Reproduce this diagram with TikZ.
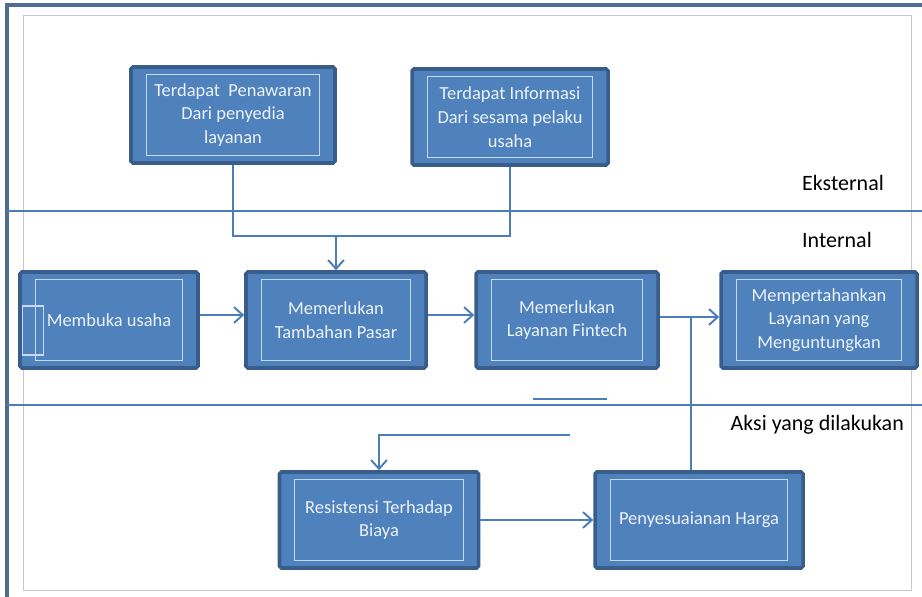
\documentclass[tikz,border=0pt]{standalone}
\usepackage{fontspec}
\setmainfont{Carlito}
\usepackage{tikz}
\usetikzlibrary{arrows.meta,positioning,calc}
\definecolor{isikotak}{RGB}{79,129,189}
\definecolor{tepikotak}{RGB}{56,93,138}
\definecolor{garisdalam}{RGB}{198,217,241}
\definecolor{teksbox}{RGB}{236,242,249}
\definecolor{garisalur}{RGB}{74,126,187}
\definecolor{bingkai}{RGB}{79,108,145}
\definecolor{abu}{RGB}{200,200,200}

\tikzset{
  kotak/.style={draw=tepikotak, line width=2pt, fill=isikotak, rounded corners=1pt,
    text=teksbox, align=center, inner sep=0pt, font=\fontsize{10.5}{13.5}\selectfont},
  ukuran/.style 2 args={minimum width=#1*0.02cm, minimum height=#2*0.02cm},
  dalam/.style={draw=garisdalam, line width=0.6pt},
  garis/.style={draw=garisalur, line width=1.2pt},
  panah/.style={garis, -{Straight Barb[length=5pt,width=9pt,line width=1.1pt]}},
  wilayah/.style={font=\fontsize{12.5}{15}\selectfont, text=black}
}

\begin{document}
\begin{tikzpicture}[x=0.02cm, y=-0.02cm]
  \useasboundingbox (0,0) rectangle (922,597);
  % frame and lanes
  \draw[abu, line width=0.5pt] (23,15) rectangle (911,590);
  \draw[bingkai, line width=2pt] (7,597) -- (7,5) -- (922,5);
  \draw[garisalur, line width=1.4pt] (7,211) -- (922,211);
  \draw[garisalur, line width=1.4pt] (7,405) -- (922,405);
  \node[wilayah, anchor=east] (eksternal) at (890,183) {Eksternal};
  \node[wilayah, anchor=east] (internal) at (878,240) {Internal};
  \node[wilayah, anchor=east] (aksi) at (910,425) {Aksi yang dilakukan};

  % boxes
  \node[kotak, ukuran={204}{96}] (penawaran) at (233,115) {Terdapat\ \ Penawaran\\Dari penyedia\\layanan};
  \node[kotak, ukuran={196}{96}] (informasi) at (510,117) {Terdapat Informasi\\Dari sesama pelaku\\usaha};
  \node[kotak, ukuran={178}{96}] (membuka) at (109,320) {Membuka usaha};
  \node[kotak, ukuran={180}{96}] (pasar) at (336,320) {Memerlukan\\Tambahan Pasar};
  \node[kotak, ukuran={182}{96}] (fintech) at (567,320) {Memerlukan\\Layanan Fintech};
  \node[kotak, ukuran={196}{96}] (pertahankan) at (819,320) {Mempertahankan\\Layanan yang\\Menguntungkan};
  \node[kotak, ukuran={199}{96}] (resistensi) at (379,520) {Resistensi Terhadap\\Biaya};
  \node[kotak, ukuran={208}{96}] (harga) at (699,520) {Penyesuaianan Harga};
  % inner frames
  \foreach \k in {penawaran,informasi,membuka,pasar,fintech,pertahankan,resistensi,harga}
    \draw[dalam] ($(\k.north west)+(17,9)$) rectangle ($(\k.south east)+(-17,-9)$);
  \draw[dalam] ($(membuka.west)+(4,-14)$) rectangle ($(membuka.west)+(25,35)$);

  % connectors
  \coordinate (gabung) at (0,236);
  \draw[garis] (penawaran.south) -- (penawaran.south |- gabung) -- (informasi.south |- gabung) -- (informasi.south);
  \draw[panah] (pasar.north |- gabung) -- (pasar.north);
  \draw[panah] ([yshift=0.1cm]membuka.east) -- ([yshift=0.1cm]pasar.west);
  \draw[panah] ([yshift=0.1cm]pasar.east) -- ([yshift=0.1cm]fintech.west);
  \draw[panah] ([yshift=0.06cm]fintech.east) -- ([yshift=0.06cm]pertahankan.west);
  \coordinate (cabang) at (691,317);
  \draw[garis] (cabang) -- (cabang |- harga.north);
  \coordinate (umpan) at (570,435);
  \draw[panah] (umpan) -| (resistensi.north);
  \draw[panah] (resistensi) -- (harga);
  % stray stroke
  \coordinate (gores) at (533,399);
  \draw[garis] (gores) -- ++(74,0);
\end{tikzpicture}
\end{document}
